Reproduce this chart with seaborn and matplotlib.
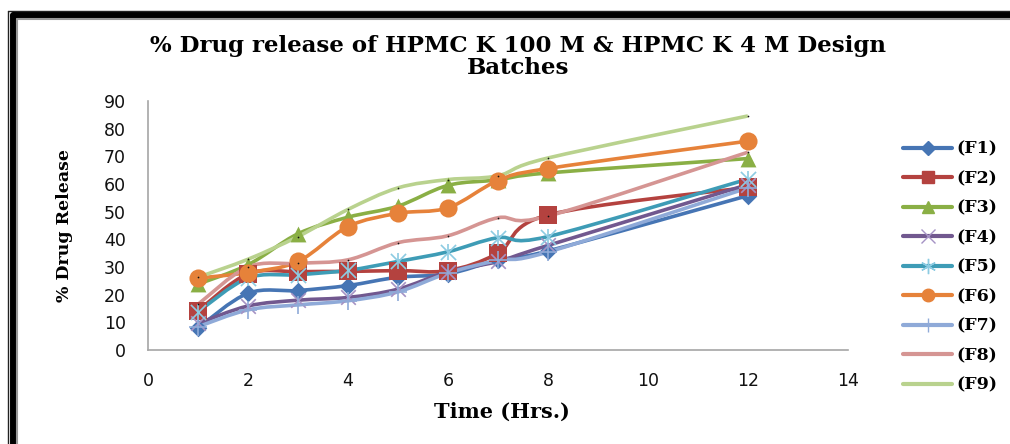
import numpy as np
import pandas as pd
import matplotlib
matplotlib.use("Agg")
import matplotlib.pyplot as plt
from matplotlib.path import Path
from matplotlib.patches import PathPatch
from matplotlib.lines import Line2D
import seaborn as sns

# Sampling times (hours)
time_hrs = [1, 2, 3, 4, 5, 6, 7, 8, 12]

# Cumulative % drug release for each formulation
F1 = [8.0, 20.5, 21.5, 23.3, 26.3, 27.5, 32.5, 35.8, 55.8]
F2 = [14.2, 27.5, 28.3, 28.4, 28.7, 28.7, 35.0, 48.8, 58.8]
F3 = [23.8, 30.8, 42.0, 48.0, 52.0, 59.5, 61.5, 64.0, 69.2]
F4 = [9.6, 15.9, 18.0, 19.0, 22.0, 28.3, 32.0, 37.8, 59.8]
F5 = [13.8, 26.0, 27.2, 28.8, 32.0, 35.5, 40.6, 41.0, 61.8]
F6 = [26.0, 28.0, 32.0, 44.6, 49.4, 51.4, 61.2, 65.6, 75.5]
F7 = [8.4, 14.5, 16.3, 17.8, 21.0, 27.8, 32.4, 35.4, 58.6]
F8 = [16.5, 30.0, 31.3, 32.6, 38.8, 41.3, 47.8, 48.4, 71.5]
F9 = [26.3, 32.8, 41.0, 50.8, 58.6, 61.6, 63.0, 69.4, 84.6]

series_names = ["(F1)", "(F2)", "(F3)", "(F4)", "(F5)", "(F6)", "(F7)", "(F8)", "(F9)"]
series_values = [F1, F2, F3, F4, F5, F6, F7, F8, F9]

line_colors = ["#4675B4", "#B4423F", "#8AAF45", "#71588F", "#3E9CB6",
               "#E6823A", "#8FAAD8", "#D59593", "#B9D28E"]
marker_colors = ["#4675B4", "#B4423F", "#8AAF45", "#A592C4", "#8CCBE2",
                 "#E6823A", "#8FAAD8", "#111111", "#111111"]
markers = ["D", "s", "^", "x", "*", "o", "+", ".", "."]
marker_sizes = [80, 150, 130, 110, 170, 170, 150, 6, 6]

sns.set_theme(style="white")
plt.rcParams["font.family"] = ["DejaVu Sans"]
plt.rcParams["text.color"] = "black"

fig = plt.figure(figsize=(10.10, 4.44), dpi=100)
ax = fig.add_axes([0.1465, 0.2117, 0.693, 0.5608])

df = pd.DataFrame({"time": np.tile(time_hrs, len(series_names)),
                   "release": np.concatenate(series_values),
                   "batch": np.repeat(series_names, len(time_hrs))})


def smooth_path(xs, ys):
    """Bezier path through the points, like a spreadsheet 'smoothed line'."""
    pts = np.column_stack([xs, ys]).astype(float)
    n = len(pts)
    verts = [pts[0]]
    codes = [Path.MOVETO]
    for i in range(n - 1):
        p0 = pts[i - 1] if i > 0 else pts[i]
        p1 = pts[i]
        p2 = pts[i + 1]
        p3 = pts[i + 2] if i + 2 < n else pts[i + 1]
        c1 = p1 + (p2 - p0) / 6.0
        c2 = p2 - (p3 - p1) / 6.0
        verts += [c1, c2, p2]
        codes += [Path.CURVE4] * 3
    return Path(verts, codes)


handles = []
for name, col, mcol, mk, ms in zip(series_names, line_colors, marker_colors, markers, marker_sizes):
    sub = df[df["batch"] == name]
    ax.add_patch(PathPatch(smooth_path(sub["time"].values, sub["release"].values),
                           fill=False, edgecolor=col, lw=2.6,
                           capstyle="butt", joinstyle="round", zorder=2))
    if mk in ("x", "+"):
        sns.scatterplot(data=sub, x="time", y="release", marker=mk, s=ms,
                        color=mcol, linewidth=1.2, ax=ax, zorder=3, legend=False)
    elif mk == "*":
        sns.scatterplot(data=sub, x="time", y="release", marker="x", s=ms * 0.7,
                        color=mcol, linewidth=1.2, ax=ax, zorder=3, legend=False)
        sns.scatterplot(data=sub, x="time", y="release", marker="|", s=ms * 0.8,
                        color=mcol, linewidth=1.2, ax=ax, zorder=3, legend=False)
    else:
        sns.scatterplot(data=sub, x="time", y="release", marker=mk, s=ms,
                        color=mcol, edgecolor=mcol, linewidth=0, ax=ax, zorder=3, legend=False)
    if name in ("(F8)", "(F9)"):
        h = Line2D([], [], color=col, lw=3)
    elif mk == "*":
        h = Line2D([], [], color=col, lw=3, marker=(6, 2, 0), markersize=11,
                   markeredgecolor=mcol, markeredgewidth=1.0)
    elif mk in ("x", "+"):
        h = Line2D([], [], color=col, lw=3, marker=mk, markersize=10,
                   markeredgecolor=mcol, markeredgewidth=1.0)
    else:
        h = Line2D([], [], color=col, lw=3, marker=mk, markersize=9 if mk != "D" else 7,
                   markerfacecolor=mcol, markeredgecolor=mcol)
    handles.append(h)

ax.set_xlim(0, 14)
ax.set_ylim(0, 90)
ax.set_xticks(range(0, 15, 2))
ax.set_yticks(range(0, 91, 10))
ax.tick_params(axis="both", length=0, labelsize=12.5, colors="#111111")
ax.tick_params(axis="y", pad=16)
ax.tick_params(axis="x", pad=16)
for side in ("top", "right"):
    ax.spines[side].set_visible(False)
for side in ("left", "bottom"):
    ax.spines[side].set_color("#A6A6A6")
    ax.spines[side].set_linewidth(1.2)
ax.set_xlabel("")
ax.set_ylabel("")

serif_bold = dict(family=["DejaVu Serif"], weight="bold", color="black")
fig.text(0.513, 0.872, "% Drug release of HPMC K 100 M & HPMC K 4 M Design\nBatches",
         ha="center", va="center", fontsize=16.5, linespacing=1.0, **serif_bold)
fig.text(0.497, 0.072, "Time (Hrs.)", ha="center", va="center", fontsize=15, **serif_bold)
fig.text(0.064, 0.492, "% Drug Release", ha="center", va="center", rotation=90,
         fontsize=12.5, **serif_bold)

leg = fig.legend(handles=handles, labels=series_names, loc="upper left",
                 bbox_to_anchor=(0.879, 0.718), frameon=False, handlelength=2.8,
                 handletextpad=0.25, labelspacing=0.72,
                 prop=dict(family=["DejaVu Serif"], weight="bold", size=12.5))
for t in leg.get_texts():
    t.set_color("black")

# Double frame along the top and left edges
for off, lw, col in [(0.0, 1.0, "#222222"), (4.5, 5.0, "black"), (8.5, 1.5, "#999999")]:
    x0 = (8 + off) / 1010
    y0 = 1 - (11 + off) / 444
    fig.add_artist(Line2D([x0, x0], [0, y0], transform=fig.transFigure, color=col, lw=lw))
    fig.add_artist(Line2D([x0, 1], [y0, y0], transform=fig.transFigure, color=col, lw=lw))

fig.savefig("out.png", dpi=100)
